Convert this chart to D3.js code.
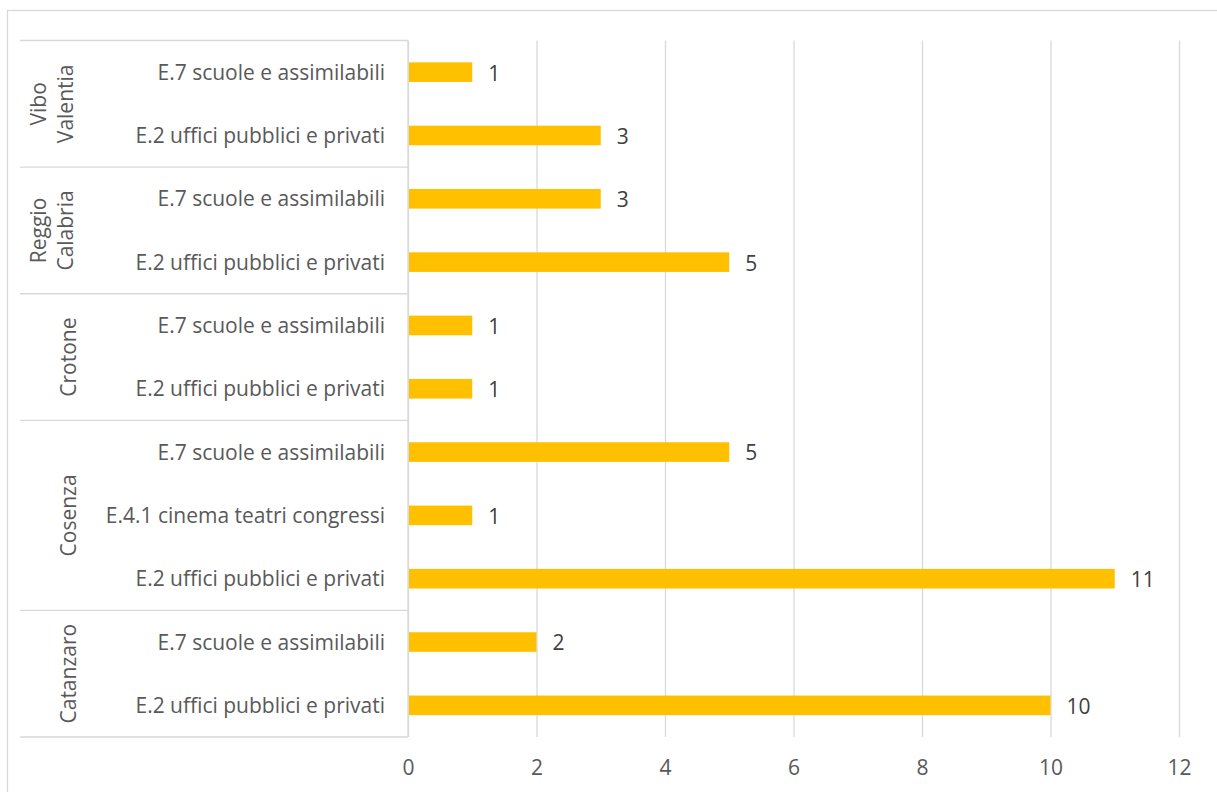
<!DOCTYPE html>
<html>
<head>
<meta charset="utf-8">
<script src="https://cdn.jsdelivr.net/npm/d3@7"></script>
<style>
  html, body { margin: 0; padding: 0; background: #ffffff; }
  svg { display: block; }
  text { font-family: "Open Sans", "Noto Sans", sans-serif; }
</style>
</head>
<body>
<svg id="chart" width="1217" height="792"></svg>
<script>
// Provinces, top to bottom, and the lines each name is split into
const provinces = ["Vibo Valentia", "Reggio Calabria", "Crotone", "Cosenza", "Catanzaro"];
const provinceLines = [["Vibo", "Valentia"], ["Reggio", "Calabria"], ["Crotone"], ["Cosenza"], ["Catanzaro"]];

// One row per bar, top to bottom
const rowProvince = ["Vibo Valentia", "Vibo Valentia", "Reggio Calabria", "Reggio Calabria",
  "Crotone", "Crotone", "Cosenza", "Cosenza", "Cosenza", "Catanzaro", "Catanzaro"];
const rowCategory = ["E.7 scuole e assimilabili", "E.2 uffici pubblici e privati",
  "E.7 scuole e assimilabili", "E.2 uffici pubblici e privati",
  "E.7 scuole e assimilabili", "E.2 uffici pubblici e privati",
  "E.7 scuole e assimilabili", "E.4.1 cinema teatri congressi", "E.2 uffici pubblici e privati",
  "E.7 scuole e assimilabili", "E.2 uffici pubblici e privati"];
const rowValue = [1, 3, 3, 5, 1, 1, 5, 1, 11, 2, 10];

const xTicks = [0, 2, 4, 6, 8, 10, 12];

const rows = rowValue.map((v, i) => ({ id: i, province: rowProvince[i], category: rowCategory[i], value: v }));

const svg = d3.select("#chart");
const plot = { left: 408, right: 1179, top: 40.5, bottom: 737 };
const gridColor = "#d9d9d9";
const textColor = "#595959";
const fontSize = "21px";

// chart frame
svg.append("rect")
  .attr("x", 7.5).attr("y", 10.5)
  .attr("width", 1215).attr("height", 790)
  .attr("fill", "#fff").attr("stroke", gridColor).attr("stroke-width", 1.3);

const x = d3.scaleLinear().domain([0, 12]).range([plot.left, plot.right]);
const y = d3.scaleBand().domain(rows.map(d => d.id)).range([plot.top, plot.bottom]).paddingInner(0.69).paddingOuter(0.345);
const rowBand = d3.scaleBand().domain(rows.map(d => d.id)).range([plot.top, plot.bottom]);

// vertical gridlines and value axis labels
const xAxis = d3.axisBottom(x).tickValues(xTicks).tickSize(-(plot.bottom - plot.top)).tickSizeOuter(0).tickPadding(23);
const gx = svg.append("g").attr("transform", `translate(0,${plot.bottom})`).call(xAxis);
gx.select(".domain").remove();
gx.selectAll(".tick line").attr("stroke", gridColor).attr("stroke-width", 1.3);
gx.selectAll(".tick text").attr("fill", textColor).style("font-size", fontSize);

// category axis line
svg.append("line")
  .attr("x1", plot.left).attr("x2", plot.left)
  .attr("y1", plot.top).attr("y2", plot.bottom)
  .attr("stroke", gridColor).attr("stroke-width", 1.3);

// province extents
const groups = provinces.map(p => {
  const ids = rows.filter(r => r.province === p).map(r => r.id);
  return { p, top: rowBand(ids[0]), bottom: rowBand(ids[ids.length - 1]) + rowBand.bandwidth() };
});

// province separators
const sepYs = [plot.top].concat(groups.map(g => g.bottom));
svg.selectAll("line.sep").data(sepYs).enter().append("line")
  .attr("class", "sep")
  .attr("x1", 20).attr("x2", plot.left)
  .attr("y1", d => d).attr("y2", d => d)
  .attr("stroke", gridColor).attr("stroke-width", 1.3);

// province labels, rotated; baselines sit at fixed distances from the frame
groups.forEach((g, i) => {
  const lines = provinceLines[i];
  const cy = (g.top + g.bottom) / 2;
  const baselines = lines.length > 1 ? [46, 73] : [76];
  lines.forEach((ln, k) => {
    svg.append("text")
      .attr("transform", `translate(${baselines[k]},${cy}) rotate(-90)`)
      .attr("text-anchor", "middle")
      .attr("fill", textColor)
      .style("font-size", fontSize)
      .text(ln);
  });
});

// category labels
svg.selectAll("text.cat").data(rows).enter().append("text")
  .attr("class", "cat")
  .attr("x", 385)
  .attr("y", d => rowBand(d.id) + rowBand.bandwidth() / 2)
  .attr("dy", "0.36em")
  .attr("text-anchor", "end")
  .attr("fill", textColor)
  .style("font-size", fontSize)
  .text(d => d.category);

// bars
svg.selectAll("rect.bar").data(rows).enter().append("rect")
  .attr("class", "bar")
  .attr("x", x(0) + 1)
  .attr("y", d => y(d.id))
  .attr("width", d => x(d.value) - x(0) - 1)
  .attr("height", y.bandwidth())
  .attr("fill", "#ffc000");

// value labels
svg.selectAll("text.val").data(rows).enter().append("text")
  .attr("class", "val")
  .attr("x", d => x(d.value) + 16)
  .attr("y", d => rowBand(d.id) + rowBand.bandwidth() / 2)
  .attr("dy", "0.4em")
  .attr("fill", "#404040")
  .style("font-size", fontSize)
  .text(d => d.value);
</script>
</body>
</html>
